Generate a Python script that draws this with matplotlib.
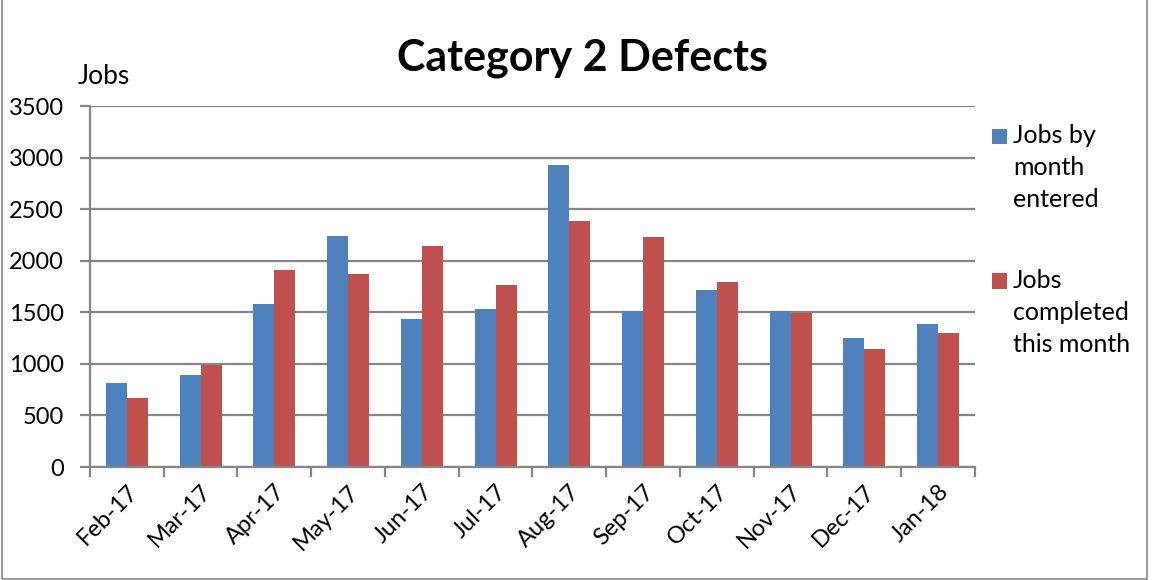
import matplotlib.pyplot as plt
import numpy as np
from matplotlib.patches import Rectangle
from matplotlib.container import BarContainer
from matplotlib.legend_handler import HandlerPatch, update_from_first_child

# data
months = ['Feb-17', 'Mar-17', 'Apr-17', 'May-17', 'Jun-17', 'Jul-17',
          'Aug-17', 'Sep-17', 'Oct-17', 'Nov-17', 'Dec-17', 'Jan-18']
jobs_entered = [819, 896, 1585, 2235, 1436, 1530, 2926, 1517, 1717, 1517, 1255, 1384]
jobs_completed = [669, 986, 1915, 1876, 2141, 1769, 2383, 2231, 1792, 1498, 1148, 1297]
y_ticks = [0, 500, 1000, 1500, 2000, 2500, 3000, 3500]

blue = '#4F81BD'
red = '#C0504D'
grey = '#868686'
fs = 17
leg_fs = 18
line_pitch = 23  # points between legend text lines

plt.rcParams['font.family'] = ['Lato', 'DejaVu Sans']


# legend square sits next to the first line of a multi-line label
def top_square(legend, orig_handle, xdescent, ydescent, width, height, fontsize):
    return Rectangle((-xdescent, -ydescent + line_pitch), width, height)


fig = plt.figure(figsize=(11.52, 5.8), dpi=100)
ax = fig.add_axes([0.0781, 0.1948, 0.7682, 0.6224])

x = np.arange(len(months))
width = 0.285
ax.bar(x - width / 2, jobs_entered, width, color=blue, label='Jobs by\nmonth\nentered')
ax.bar(x + width / 2, jobs_completed, width, color=red, label='Jobs\ncompleted\nthis month')

ax.set_xlim(-0.5, len(months) - 0.5)
ax.set_ylim(0, 3500)
ax.set_yticks(y_ticks)
ax.set_yticklabels([str(v) for v in y_ticks], fontsize=fs)
ax.yaxis.grid(True, color=grey, linewidth=1.6)
ax.set_axisbelow(True)

ax.set_xticks(x)
ax.set_xticklabels(months, rotation=45, ha='right', rotation_mode='anchor', fontsize=fs)
ax.set_xticks(np.arange(-0.5, len(months), 1), minor=True)
ax.tick_params(axis='x', which='major', length=0, pad=10)
ax.tick_params(axis='x', which='minor', length=7, width=1.6, color=grey)
ax.tick_params(axis='y', length=7, width=1.6, color=grey, pad=12)

for side in ['top', 'right']:
    ax.spines[side].set_visible(False)
for side in ['left', 'bottom']:
    ax.spines[side].set_color(grey)
    ax.spines[side].set_linewidth(1.6)

fig.text(0.506, 0.90, 'Category 2 Defects', ha='center', va='center',
         fontsize=31, fontweight='bold')
fig.text(0.067, 0.868, 'Jobs', ha='left', va='center', fontsize=19)

leg = fig.legend(loc='upper left', bbox_to_anchor=(0.861, 0.786), frameon=False,
                 fontsize=leg_fs, handlelength=0.6, handleheight=0.6, handletextpad=0.25,
                 labelspacing=2.3, borderpad=0, borderaxespad=0,
                 handler_map={BarContainer: HandlerPatch(patch_func=top_square,
                                                         update_func=update_from_first_child)})
for t in leg.get_texts():
    t.set_linespacing(1.48)

# outer chart border
fig.patches.append(Rectangle((0.002, 0.002), 0.994, 1.2, transform=fig.transFigure,
                             fill=False, edgecolor=grey, linewidth=1.2))

plt.savefig('out.png', dpi=100)
plt.close()
